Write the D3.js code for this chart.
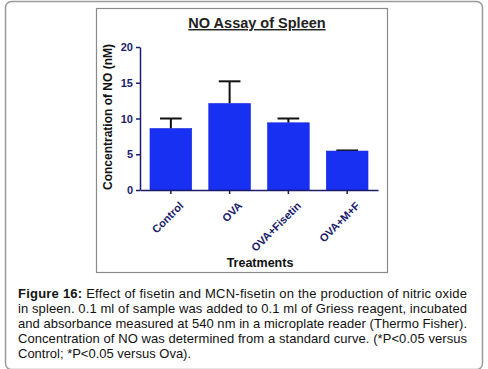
<!DOCTYPE html>
<html><head><meta charset="utf-8">
<script src="https://cdn.jsdelivr.net/npm/d3@7"></script>
<style>body{margin:0;background:#fff;} svg{display:block;font-family:"Liberation Sans",Arial,sans-serif;}</style>
</head><body>
<script>
const categories = ["Control", "OVA", "OVA+Fisetin", "OVA+M+F"];
const values = [8.6, 12.1, 9.4, 5.45];
const errors = [1.4, 3.1, 0.6, 0.08];
const yTicks = [0, 5, 10, 15, 20];
const captionLines = [
  "Effect of fisetin and MCN-fisetin on the production of nitric oxide",
  "in spleen. 0.1 ml of sample was added to 0.1 ml of Griess reagent, incubated",
  "and absorbance measured at 540 nm in a microplate reader (Thermo Fisher).",
  "Concentration of NO was determined from a standard curve. (*P<0.05 versus",
  "Control; *P<0.05 versus Ova)."
];

const W = 488, H = 369;
const svg = d3.select("body").append("svg").attr("width", W).attr("height", H);

// outer frame
svg.append("rect").attr("x", 5.5).attr("y", 1.5).attr("width", 477).attr("height", 368)
  .attr("rx", 6).attr("fill", "none").attr("stroke", "#9a9a9a").attr("stroke-width", 1.5);
// inner chart frame
svg.append("rect").attr("x", 96.5).attr("y", 8.5).attr("width", 291).attr("height", 264)
  .attr("fill", "#fff").attr("stroke", "#8a8a8a").attr("stroke-width", 1.2);

const axisCol = "#1c1c6b";
const x = d3.scaleBand().domain(categories).range([140, 378]).paddingInner(0.29).paddingOuter(0.17);
const y = d3.scaleLinear().domain([0, 20]).range([190, 47]);

const g = svg.append("g");
// error bars (upper only)
categories.forEach((c, i) => {
  const cx = x(c) + x.bandwidth() / 2;
  const capW = x.bandwidth() * 0.52;
  g.append("line").attr("x1", cx).attr("x2", cx).attr("y1", y(values[i])).attr("y2", y(values[i] + errors[i]))
    .attr("stroke", "#111").attr("stroke-width", 2);
  g.append("line").attr("x1", cx - capW / 2).attr("x2", cx + capW / 2)
    .attr("y1", y(values[i] + errors[i])).attr("y2", y(values[i] + errors[i]))
    .attr("stroke", "#111").attr("stroke-width", 2);
});
// bars
g.selectAll("rect.bar").data(categories).join("rect").attr("class", "bar")
  .attr("x", d => x(d)).attr("width", x.bandwidth())
  .attr("y", (d, i) => y(values[i])).attr("height", (d, i) => y(0) - y(values[i]))
  .attr("fill", "#1830f2").attr("stroke", "#1a2ad8").attr("stroke-width", 0.6);

// y axis
const ya = svg.append("g").attr("transform", "translate(140,0)")
  .call(d3.axisLeft(y).tickValues(yTicks).tickSize(4).tickSizeOuter(0).tickPadding(3));
ya.select(".domain").attr("stroke", axisCol).attr("stroke-width", 1.5);
ya.selectAll(".tick line").attr("stroke", axisCol).attr("stroke-width", 1.5);
ya.selectAll(".tick text").attr("fill", axisCol).attr("font-size", 11).attr("font-weight", "bold")
  .attr("font-family", "Liberation Sans, Arial, sans-serif");

// x axis
const xa = svg.append("g").attr("transform", "translate(0,190)")
  .call(d3.axisBottom(x).tickSize(4).tickSizeOuter(0).tickPadding(4));
xa.select(".domain").attr("stroke", axisCol).attr("stroke-width", 1.5);
xa.selectAll(".tick line").attr("stroke", axisCol).attr("stroke-width", 1.5);
xa.selectAll(".tick text").attr("fill", axisCol).attr("font-size", 11).attr("font-weight", "bold")
  .attr("font-family", "Liberation Sans, Arial, sans-serif")
  .attr("text-anchor", "end").attr("dy", "0.35em")
  .attr("transform", "translate(5,8) rotate(-45)");

// title
svg.append("text").attr("x", 257).attr("y", 28).attr("text-anchor", "middle")
  .attr("font-size", 14.5).attr("font-weight", "bold").attr("fill", "#222")
  .attr("text-decoration", "underline").text("NO Assay of Spleen");
// y label
svg.append("text").attr("transform", "translate(112,117) rotate(-90)").attr("text-anchor", "middle")
  .attr("font-size", 12).attr("font-weight", "bold").attr("fill", "#111")
  .text("Concentration of NO (nM)");
// x label
svg.append("text").attr("x", 260).attr("y", 267).attr("text-anchor", "middle")
  .attr("font-size", 12.5).attr("font-weight", "bold").attr("fill", "#111").text("Treatments");

// caption
const cap = svg.append("g").attr("font-size", 13).attr("fill", "#111");
captionLines.forEach((ln, i) => {
  const t = cap.append("text").attr("x", 18).attr("y", 298 + i * 15);
  if (i === 0) {
    t.append("tspan").attr("font-weight", "bold").text("Figure 16: ");
  }
  t.append("tspan").text(ln);
  if (i < captionLines.length - 1) {
    t.attr("textLength", 449).attr("lengthAdjust", "spacing");
  }
});
</script>
</body></html>
